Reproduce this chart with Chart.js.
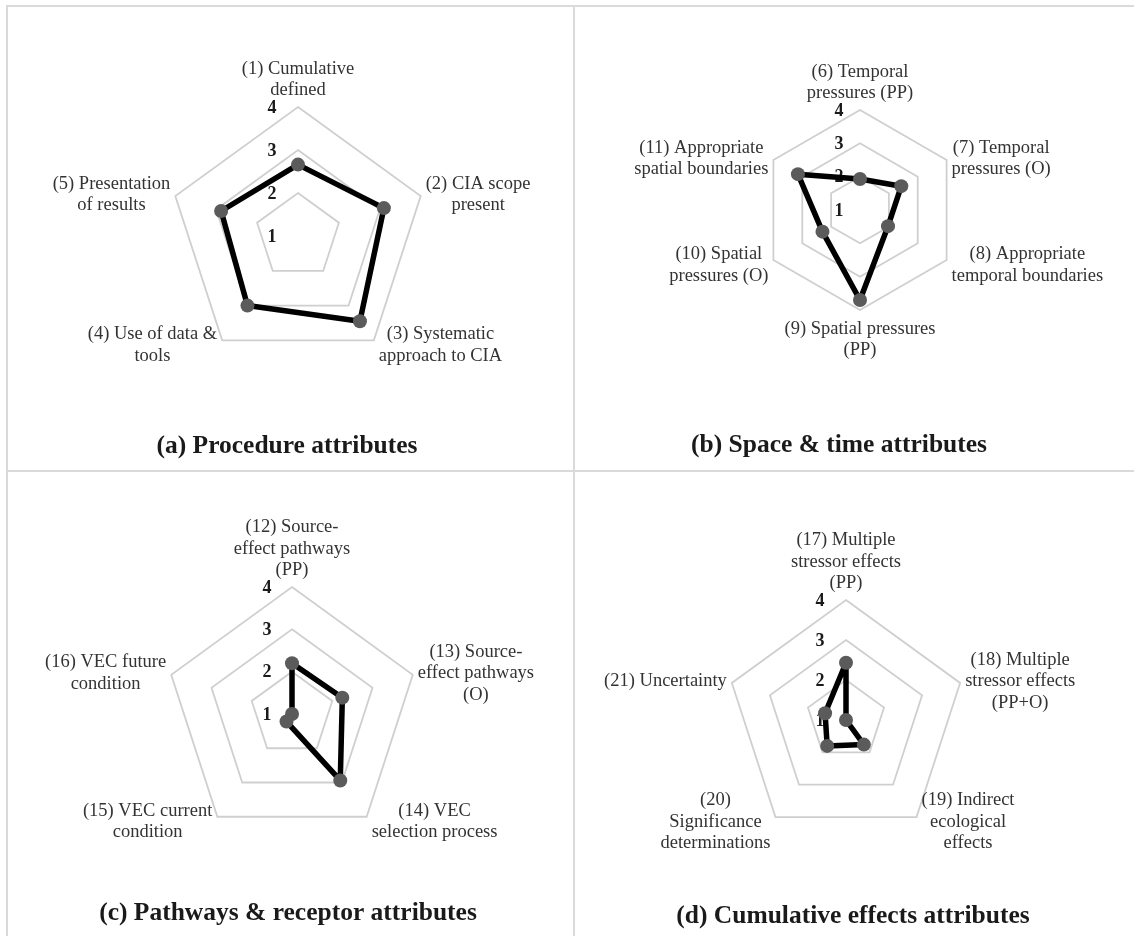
<!DOCTYPE html>
<html>
<head>
<meta charset="utf-8">
<title>CIA quality attribute scores</title>
<script src="https://cdn.jsdelivr.net/npm/chart.js@4.4.1/dist/chart.umd.min.js"></script>
<style>
  html, body { margin: 0; padding: 0; background: #ffffff; }
  #page { position: relative; width: 1134px; height: 936px; overflow: hidden; background: #ffffff; }
  #page canvas { position: absolute; }
  .rule { position: absolute; background: #dadada; pointer-events: none; }
</style>
</head>
<body>
<div id="page">
  <canvas id="chartA" width="567" height="468" style="left:0px;top:0px"></canvas>
  <canvas id="chartB" width="567" height="468" style="left:567px;top:0px"></canvas>
  <canvas id="chartC" width="567" height="468" style="left:0px;top:468px"></canvas>
  <canvas id="chartD" width="567" height="468" style="left:567px;top:468px"></canvas>
  <div class="rule" style="left:6px;top:5px;width:1128px;height:2px"></div>
  <div class="rule" style="left:6px;top:5px;width:2px;height:931px"></div>
  <div class="rule" style="left:573px;top:5px;width:2px;height:931px"></div>
  <div class="rule" style="left:6px;top:470px;width:1128px;height:2px"></div>
</div>
<script>
// Score scale shared by all four panels
const tickLabels = ["1", "2", "3", "4"];

// (a) Procedure attributes
const procedureLabels = [
  ["(1) Cumulative", "defined"],
  ["(2) CIA scope", "present"],
  ["(3) Systematic", "approach to CIA"],
  ["(4) Use of data &", "tools"],
  ["(5) Presentation", "of results"]
];
const procedureScores = [2.66, 3.1, 3.45, 3.0, 2.88];

// (b) Space & time attributes
const spaceTimeLabels = [
  ["(6) Temporal", "pressures (PP)"],
  ["(7) Temporal", "pressures (O)"],
  ["(8) Appropriate", "temporal boundaries"],
  ["(9) Spatial pressures", "(PP)"],
  ["(10) Spatial", "pressures (O)"],
  ["(11) Appropriate", "spatial boundaries"]
];
const spaceTimeScores = [1.93, 2.43, 1.97, 3.7, 2.3, 3.15];

// (c) Pathways & receptor attributes
const pathwayLabels = [
  ["(12) Source-", "effect pathways", "(PP)"],
  ["(13) Source-", "effect pathways", "(O)"],
  ["(14) VEC", "selection process"],
  ["(15) VEC current", "condition"],
  ["(16) VEC future", "condition"]
];
const pathwayScores = [2.2, 2.25, 2.94, 1.22, 1.0];

// (d) Cumulative effects attributes
const effectsLabels = [
  ["(17) Multiple", "stressor effects", "(PP)"],
  ["(18) Multiple", "stressor effects", "(PP+O)"],
  ["(19) Indirect", "ecological", "effects"],
  ["(20)", "Significance", "determinations"],
  ["(21) Uncertainty"]
];
const effectsScores = [2.43, 1.0, 1.76, 1.8, 1.55];

const panelTitles = [
  "(a) Procedure attributes",
  "(b) Space & time attributes",
  "(c) Pathways & receptor attributes",
  "(d) Cumulative effects attributes"
];

// Placement of each radar inside its 567x468 panel
const panelLayouts = [
  { canvas: "chartA", cx: 298, cy: 236, r: 129, titleX: 287, titleY: 446, tickDX: 26 },
  { canvas: "chartB", cx: 293, cy: 210, r: 100, titleX: 272, titleY: 445, tickDX: 21 },
  { canvas: "chartC", cx: 292, cy: 246, r: 127, titleX: 288, titleY: 445, tickDX: 25 },
  { canvas: "chartD", cx: 279, cy: 252, r: 120, titleX: 286, titleY: 448, tickDX: 26 }
];

const SERIF = '"Liberation Serif", "Times New Roman", serif';
Chart.defaults.font.family = SERIF;

// Bold score numbers beside the vertical axis, drawn beneath the data line
const scoreTicks = {
  id: "scoreTicks",
  beforeDatasetsDraw(chart, args, opts) {
    const s = chart.scales.r;
    const ctx = chart.ctx;
    ctx.save();
    ctx.font = "bold 18px " + SERIF;
    ctx.fillStyle = "#1a1a1a";
    ctx.textAlign = "center";
    ctx.textBaseline = "middle";
    s.ticks.forEach((t, i) => {
      const d = s.getDistanceFromCenterForValue(t.value);
      ctx.fillText(tickLabels[i], s.xCenter - opts.tickDX, s.yCenter - d + 1);
    });
    ctx.restore();
  }
};

// Multi-line category captions around the polygon, plus the panel caption
const captions = {
  id: "captions",
  afterDraw(chart, args, opts) {
    const s = chart.scales.r;
    const ctx = chart.ctx;
    const lh = 21.5;
    ctx.save();
    ctx.font = "18.5px " + SERIF;
    ctx.fillStyle = "#333333";
    ctx.textAlign = "center";
    ctx.textBaseline = "middle";
    chart.data.labels.forEach((lines, i) => {
      const p = s.getPointPosition(i, s.drawingArea);
      const deg = ((s.getIndexAngle(i) * 180 / Math.PI) % 360 + 360) % 360;
      const w = Math.max(...lines.map(t => ctx.measureText(t).width));
      const h = lines.length * lh;
      let bx, top;
      if (deg < 1 || deg > 359) {
        bx = p.x; top = p.y - 6 - h;
      } else if (Math.abs(deg - 180) < 1) {
        bx = p.x; top = p.y + 8;
      } else {
        const lower = deg > 90 && deg < 270;
        bx = deg < 180 ? p.x + 5 + w / 2 : p.x - 5 - w / 2;
        top = p.y - h / 2 + (lower ? 5 : -1.5);
      }
      lines.forEach((t, k) => ctx.fillText(t, bx, top + lh * (k + 0.5)));
    });
    ctx.font = "bold 25.5px " + SERIF;
    ctx.fillStyle = "#1a1a1a";
    ctx.fillText(opts.title, opts.titleX, opts.titleY);
    ctx.restore();
  }
};

function drawRadar(layout, labels, scores, title) {
  const canvas = document.getElementById(layout.canvas);
  const W = canvas.width, H = canvas.height;
  return new Chart(canvas, {
    type: "radar",
    data: {
      labels: labels,
      datasets: [{
        data: scores,
        borderColor: "#000000",
        borderWidth: 5.5,
        borderJoinStyle: "round",
        fill: false,
        pointRadius: 7,
        pointBackgroundColor: "#5b5b5b",
        pointBorderColor: "#5b5b5b",
        pointBorderWidth: 0
      }]
    },
    options: {
      responsive: false,
      animation: false,
      devicePixelRatio: 1,
      layout: {
        padding: {
          left: layout.cx - layout.r,
          top: layout.cy - layout.r,
          right: W - (layout.cx + layout.r),
          bottom: H - (layout.cy + layout.r)
        }
      },
      plugins: {
        legend: { display: false },
        tooltip: { enabled: false },
        scoreTicks: { tickDX: layout.tickDX },
        captions: { title: title, titleX: layout.titleX, titleY: layout.titleY }
      },
      scales: {
        r: {
          min: 1,
          max: 4,
          ticks: { display: false, stepSize: 1 },
          angleLines: { display: false },
          grid: { color: "#cfcfcf", lineWidth: 1.8 },
          pointLabels: { display: false }
        }
      }
    },
    plugins: [scoreTicks, captions]
  });
}

drawRadar(panelLayouts[0], procedureLabels, procedureScores, panelTitles[0]);
drawRadar(panelLayouts[1], spaceTimeLabels, spaceTimeScores, panelTitles[1]);
drawRadar(panelLayouts[2], pathwayLabels, pathwayScores, panelTitles[2]);
drawRadar(panelLayouts[3], effectsLabels, effectsScores, panelTitles[3]);
</script>
</body>
</html>
